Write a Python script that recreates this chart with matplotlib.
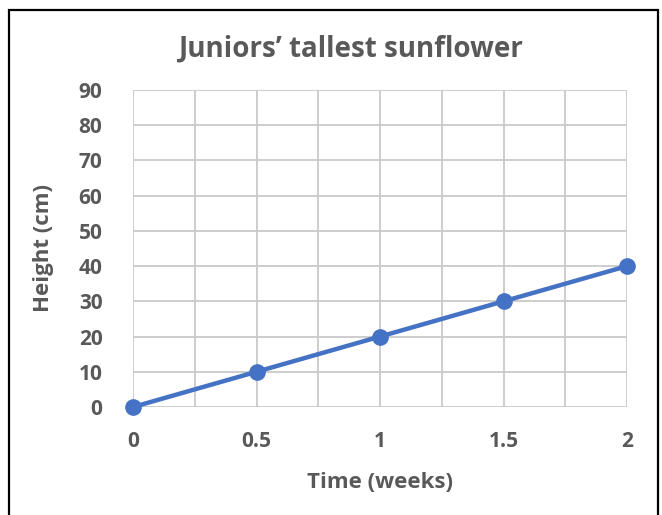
import matplotlib
matplotlib.use("Agg")
import matplotlib.pyplot as plt
from matplotlib.patches import Rectangle
from matplotlib.ticker import MultipleLocator

time_weeks = [0, 0.5, 1, 1.5, 2]
height_cm = [0, 10, 20, 30, 40]
x_ticks = [0, 0.5, 1, 1.5, 2]
x_tick_labels = ["0", "0.5", "1", "1.5", "2"]
y_ticks = [0, 10, 20, 30, 40, 50, 60, 70, 80, 90]

plt.rcParams['font.family'] = ['Open Sans', 'DejaVu Sans']
txt = '#595959'
W, H = 662, 515
fig = plt.figure(figsize=(W/100, H/100), dpi=100)
ax = fig.add_axes([133/W, 1-407/H, (627-133)/W, (407-90)/H])

ax.plot(time_weeks, height_cm, color='#4472C4', lw=3.2, marker='o', ms=11,
        zorder=5, clip_on=False)
ax.set_xlim(0, 2)
ax.set_ylim(0, 90)
ax.set_xticks(x_ticks)
ax.set_xticklabels(x_tick_labels)
ax.set_yticks(y_ticks)
ax.xaxis.set_minor_locator(MultipleLocator(0.25))
ax.grid(True, which='both', axis='x', color='#c9c9c9', lw=1.3)
ax.grid(True, which='major', axis='y', color='#c9c9c9', lw=1.3)
for s in ax.spines.values():
    s.set_visible(False)
ax.tick_params(which='both', length=0)
ax.tick_params(axis='x', pad=17)
ax.tick_params(axis='y', pad=22)
for lab in ax.get_xticklabels() + ax.get_yticklabels():
    lab.set_fontsize(15)
    lab.set_color(txt)
    lab.set_fontweight('bold')

ax.set_xlabel('Time (weeks)', fontsize=16, color=txt, labelpad=15, fontweight='bold')
ax.set_ylabel('Height (cm)', fontsize=16, color=txt, labelpad=18, fontweight='bold')
fig.text(350/W, 1-49/H, 'Juniors’ tallest sunflower', fontsize=20, color=txt,
         ha='center', va='center', fontweight='bold')

fig.patches.append(Rectangle((9/W, -0.05), (658-9)/W, 1.05-10/H, transform=fig.transFigure,
                             fill=False, edgecolor='black', lw=1.6))
fig.savefig('out.png', dpi=100)
